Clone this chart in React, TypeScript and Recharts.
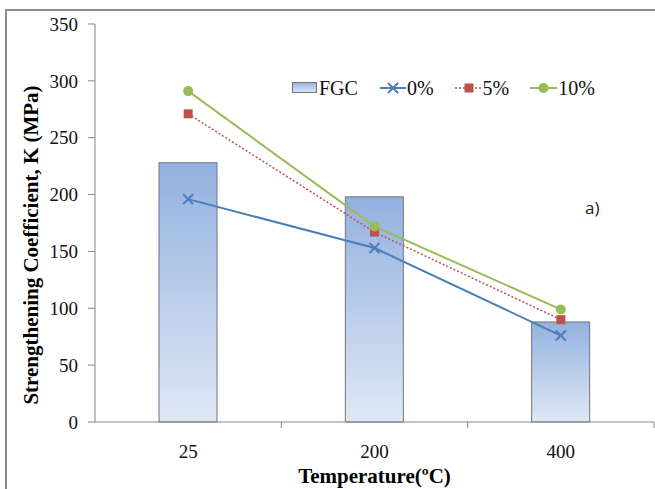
import React from 'react';
import { ComposedChart, Bar, Line, XAxis, YAxis } from 'recharts';

// temperatures (°C) and strengthening coefficient K (MPa)
const temps = ['25', '200', '400'];
const fgc = [228, 198, 88];
const pct0 = [196, 153, 76];
const pct5 = [271, 167, 90];
const pct10 = [291, 172, 99];
const yTicks = [0, 50, 100, 150, 200, 250, 300, 350];

// categories sit at the middle of each unit slot so the tick marks land on the slot edges
const chartData = temps.map((t, i) => ({
  pos: i + 0.5,
  temp: t,
  fgc: fgc[i],
  p0: pct0[i],
  p5: pct5[i],
  p10: pct10[i],
}));

const xTicks = [0, 0.5, 1, 1.5, 2, 2.5, 3];

const BLUE = '#4a7ebb';
const RED = '#c0504d';
const GREEN = '#9bbb59';
const AXIS = '#868686';
const serif = '"Liberation Serif", "Times New Roman", serif';

const TempTick = (props: any) => {
  const { x, y, payload } = props;
  const v = payload.value as number;
  if (Number.isInteger(v)) {
    if (v === 0) return null;
    return <line x1={x} y1={y} x2={x} y2={y + 6} stroke={AXIS} strokeWidth={1} />;
  }
  return (
    <text x={x} y={y + 36} textAnchor="middle" fontFamily={serif} fontSize={19} fill="#111">
      {temps[Math.floor(v)]}
    </text>
  );
};

const CrossDot = (props: any) => {
  const { cx, cy } = props;
  if (cx == null || cy == null) return null;
  return (
    <g stroke={BLUE} strokeWidth={2}>
      <line x1={cx - 5} y1={cy - 5} x2={cx + 5} y2={cy + 5} />
      <line x1={cx - 5} y1={cy + 5} x2={cx + 5} y2={cy - 5} />
    </g>
  );
};

const SquareDot = (props: any) => {
  const { cx, cy } = props;
  if (cx == null || cy == null) return null;
  return <rect x={cx - 4.5} y={cy - 4.5} width={9} height={9} fill={RED} />;
};

const RoundDot = (props: any) => {
  const { cx, cy } = props;
  if (cx == null || cy == null) return null;
  return <circle cx={cx} cy={cy} r={5} fill={GREEN} />;
};

const legendText: React.CSSProperties = { fontFamily: serif, fontSize: 20, color: '#111', lineHeight: '22px' };

const ChartLegend = () => (
  <div style={{ position: 'absolute', left: 292, top: 77, display: 'flex', alignItems: 'center' }}>
    <svg width={26} height={12} style={{ marginRight: 1 }}>
      <rect x={0.5} y={0.5} width={24} height={10} fill="url(#fgcLegendFill)" stroke="#6e7580" />
      <defs>
        <linearGradient id="fgcLegendFill" x1="0" y1="0" x2="0" y2="1">
          <stop offset="0%" stopColor="#93b1df" />
          <stop offset="100%" stopColor="#dfe8f5" />
        </linearGradient>
      </defs>
    </svg>
    <span style={{ ...legendText, marginRight: 22 }}>FGC</span>
    <svg width={26} height={12} style={{ marginRight: 1 }}>
      <line x1={0} y1={6} x2={26} y2={6} stroke={BLUE} strokeWidth={2} />
      <g stroke={BLUE} strokeWidth={2}>
        <line x1={8} y1={1} x2={18} y2={11} />
        <line x1={8} y1={11} x2={18} y2={1} />
      </g>
    </svg>
    <span style={{ ...legendText, marginRight: 21 }}>0%</span>
    <svg width={28} height={12}>
      <line x1={0} y1={6} x2={28} y2={6} stroke={RED} strokeWidth={1.5} strokeDasharray="2 2" />
      <rect x={9.5} y={1.5} width={9} height={9} fill={RED} />
    </svg>
    <span style={{ ...legendText, marginRight: 21 }}>5%</span>
    <svg width={27} height={12} style={{ marginRight: 1 }}>
      <line x1={0} y1={6} x2={27} y2={6} stroke={GREEN} strokeWidth={2} />
      <circle cx={13.5} cy={6} r={5} fill={GREEN} />
    </svg>
    <span style={legendText}>10%</span>
  </div>
);

const App: React.FC = () => {
  return (
    <div style={{ position: 'absolute', left: 0, top: 0, width: 655, height: 489, background: '#fff', overflow: 'hidden' }}>
      <div
        style={{
          position: 'absolute',
          left: 5,
          top: 9,
          width: 700,
          height: 520,
          borderLeft: '2px solid #8c8c8c',
          borderTop: '2px solid #8c8c8c',
        }}
      />
      <ComposedChart
        width={655}
        height={489}
        data={chartData}
        margin={{ top: 24, right: 1, left: 0, bottom: 0 }}
        style={{ position: 'absolute', left: 0, top: 0 }}
      >
        <defs>
          <linearGradient id="fgcFill" x1="0" y1="0" x2="0" y2="1">
            <stop offset="0%" stopColor="#93b1df" />
            <stop offset="100%" stopColor="#dfe8f5" />
          </linearGradient>
        </defs>
        <XAxis
          type="number"
          dataKey="pos"
          domain={[0, 3]}
          ticks={xTicks}
          interval={0}
          height={67}
          tickSize={0}
          tickMargin={0}
          tickLine={false}
          axisLine={{ stroke: AXIS }}
          tick={<TempTick />}
          label={{
            value: 'Temperature(ºC)',
            position: 'insideBottom',
            offset: 6,
            style: { fontFamily: serif, fontSize: 21, fontWeight: 'bold', fill: '#000' },
          }}
        />
        <YAxis
          type="number"
          domain={[0, 350]}
          ticks={yTicks}
          width={95}
          interval={0}
          tickSize={7}
          tickMargin={10}
          axisLine={{ stroke: AXIS }}
          tickLine={{ stroke: AXIS }}
          tick={{ fontFamily: serif, fontSize: 19, fill: '#111' }}
          label={{
            value: 'Strengthening Coefficient, K (MPa)',
            angle: -90,
            content: () => (
              <text
                x={31}
                y={245}
                transform="rotate(-90 31 245)"
                textAnchor="middle"
                dominantBaseline="central"
                fontFamily={serif}
                fontSize={21}
                fontWeight="bold"
                fill="#000"
              >
                Strengthening Coefficient, K (MPa)
              </text>
            ),
          }}
        />
        <Bar dataKey="fgc" name="FGC" barSize={58} fill="url(#fgcFill)" stroke="#6e7580" strokeWidth={1} isAnimationActive={false} />
        <Line dataKey="p0" name="0%" stroke={BLUE} strokeWidth={2} dot={<CrossDot />} activeDot={false} isAnimationActive={false} />
        <Line dataKey="p5" name="5%" stroke={RED} strokeWidth={1.5} strokeDasharray="2 2" dot={<SquareDot />} activeDot={false} isAnimationActive={false} />
        <Line dataKey="p10" name="10%" stroke={GREEN} strokeWidth={2} dot={<RoundDot />} activeDot={false} isAnimationActive={false} />
      </ComposedChart>
      <ChartLegend />
      <div style={{ position: 'absolute', left: 585, top: 196, fontFamily: '"Open Sans", "Liberation Sans", sans-serif', fontSize: 17, color: '#222' }}>
        a)
      </div>
    </div>
  );
};

export default App;
